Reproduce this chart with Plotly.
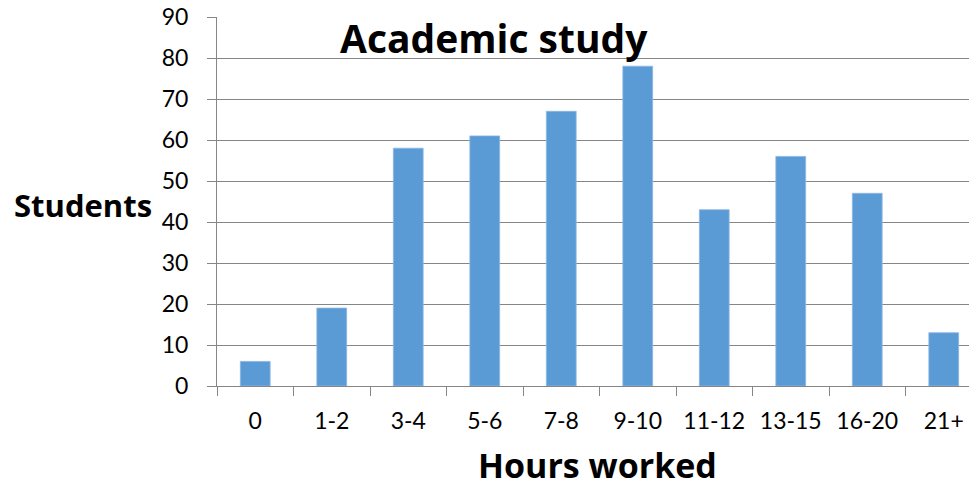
import plotly.graph_objects as go

categories = ["0", "1-2", "3-4", "5-6", "7-8", "9-10", "11-12", "13-15", "16-20", "21+"]
students = [6, 19, 58, 61, 67, 78, 43, 56, 47, 13]
y_ticks = [0, 10, 20, 30, 40, 50, 60, 70, 80, 90]

W, H = 969, 489
L, T, B = 217, 17, 103
plot_w = W - L
cat_px = 76.5
x_max = -0.5 + plot_w / cat_px

FONT = "Lato"
TFONT = "Open Sans"

fig = go.Figure(go.Bar(
    x=categories, y=students,
    marker=dict(color="#5B9BD5", line=dict(color="#8db8e3", width=0.8)),
))

fig.update_layout(
    width=W, height=H,
    margin=dict(l=L, r=0, t=T, b=B, pad=0),
    paper_bgcolor="white", plot_bgcolor="white",
    bargap=0.61,
    showlegend=False,
    font=dict(family=FONT, size=23, color="#000"),
)
fig.update_xaxes(
    type="category", range=[-0.5, x_max],
    showgrid=False, showline=True, linecolor="#868686", linewidth=1,
    ticks="outside", tickson="boundaries", ticklen=9, tickcolor="#868686",
    tickfont=dict(family=FONT, size=23, color="#000"),
    ticklabelstandoff=14,
)
fig.update_yaxes(
    range=[0, 90], tickvals=y_ticks,
    showgrid=True, gridcolor="#868686", gridwidth=1,
    zeroline=False, showline=True, linecolor="#868686", linewidth=1,
    ticks="outside", ticklen=9, tickcolor="#868686",
    tickfont=dict(family=FONT, size=23, color="#000"),
    ticklabelstandoff=14,
)

plot_h = H - T - B
def px_x(p):
    return (p - L) / plot_w
def px_y(p):
    return (H - B - p) / plot_h

fig.add_annotation(text="<b>Academic study</b>", x=px_x(494), y=px_y(38),
                   xref="paper", yref="paper", showarrow=False,
                   xanchor="center", yanchor="middle",
                   font=dict(family=TFONT, size=39, color="#000"))
fig.add_annotation(text="<b>Students</b>", x=px_x(83), y=px_y(205),
                   xref="paper", yref="paper", showarrow=False,
                   xanchor="center", yanchor="middle",
                   font=dict(family=TFONT, size=31, color="#000"))
fig.add_annotation(text="<b>Hours worked</b>", x=px_x(597), y=px_y(465),
                   xref="paper", yref="paper", showarrow=False,
                   xanchor="center", yanchor="middle",
                   font=dict(family=TFONT, size=34, color="#000"))

fig.write_html("out.html", config={"displayModeBar": False},
               post_script="document.body.style.margin='0';document.body.style.overflow='hidden';")
